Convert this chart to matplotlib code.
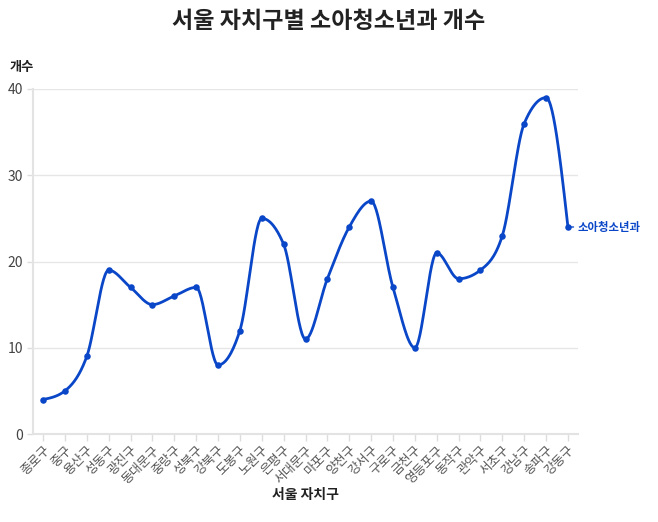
import numpy as np
import matplotlib
matplotlib.use("Agg")
import matplotlib.pyplot as plt

plt.rcParams['font.family'] = ['Noto Sans CJK KR', 'DejaVu Sans']

districts = ["종로구", "중구", "용산구", "성동구", "광진구", "동대문구", "중랑구", "성북구",
             "강북구", "도봉구", "노원구", "은평구", "서대문구", "마포구", "양천구", "강서구",
             "구로구", "금천구", "영등포구", "동작구", "관악구", "서초구", "강남구", "송파구", "강동구"]
counts = [4, 5, 9, 19, 17, 15, 16, 17, 8, 12, 25, 22, 11, 18, 24, 27, 17, 10, 21, 18, 19, 23, 36, 39, 24]
series_name = "소아청소년과"
y_ticks = [0, 10, 20, 30, 40]

color = "#0a46c8"


def monotone_x(x, y, n=30):
    x = np.asarray(x, float); y = np.asarray(y, float)
    h = np.diff(x); s = np.diff(y) / h
    m = np.zeros_like(y)
    for i in range(1, len(y) - 1):
        if s[i - 1] * s[i] <= 0:
            m[i] = 0
        else:
            p = (s[i - 1] * h[i] + s[i] * h[i - 1]) / (h[i - 1] + h[i])
            m[i] = (np.sign(s[i - 1]) + np.sign(s[i])) * min(abs(s[i - 1]), abs(s[i]), 0.5 * abs(p))
    m[0] = (3 * s[0] - m[1]) / 2 if len(y) > 2 else s[0]
    m[-1] = (3 * s[-1] - m[-2]) / 2 if len(y) > 2 else s[-1]
    xs, ys = [], []
    for i in range(len(x) - 1):
        t = np.linspace(0, 1, n, endpoint=(i == len(x) - 2))
        x0, x1 = x[i], x[i + 1]
        hh = x1 - x0
        h00 = 2 * t**3 - 3 * t**2 + 1
        h10 = t**3 - 2 * t**2 + t
        h01 = -2 * t**3 + 3 * t**2
        h11 = t**3 - t**2
        xs.append(x0 + t * hh)
        ys.append(h00 * y[i] + h10 * hh * m[i] + h01 * y[i + 1] + h11 * hh * m[i + 1])
    return np.concatenate(xs), np.concatenate(ys)


fig = plt.figure(figsize=(6.58, 5.22), dpi=100)
ax = fig.add_axes([33 / 658, 88 / 522, (578 - 33) / 658, (434 - 89) / 522])

xi = np.arange(len(districts))
sx, sy = monotone_x(xi, counts)
ax.plot(sx, sy, color=color, lw=2.0, zorder=3, solid_capstyle='round')
ax.scatter(xi, counts, s=22, color=color, zorder=4, linewidths=0)

ax.set_xlim(-0.46, len(districts) - 1 + 0.46)
ax.set_ylim(0, 40)
ax.set_yticks(y_ticks)
ax.set_xticks(xi)
ax.set_xticklabels(districts, rotation=45, ha='right', rotation_mode='anchor',
                   fontsize=9.2, color='#555555')
ax.tick_params(axis='x', length=5, color='#dddddd', width=1, pad=2)
ax.tick_params(axis='y', length=4, color='#dddddd', width=1, labelsize=10, labelcolor='#444444', pad=3)
ax.grid(axis='y', color='#e6e6e6', lw=1)
ax.set_axisbelow(True)
for sp in ['top', 'right']:
    ax.spines[sp].set_visible(False)
for sp in ['left', 'bottom']:
    ax.spines[sp].set_color('#e3e3e3')
    ax.spines[sp].set_linewidth(1.5)

ax.annotate(series_name, xy=(xi[-1], counts[-1]), xytext=(7, 0), textcoords='offset points',
            color=color, fontsize=8.2, fontweight='bold', va='center', ha='left',
            arrowprops=dict(arrowstyle='-', color=color, lw=1, shrinkA=1, shrinkB=0),
            annotation_clip=False)

fig.text(0.5, 1 - 22 / 522, "서울 자치구별 소아청소년과 개수", ha='center', va='center',
         fontsize=16.6, fontweight='bold', color='#222222')
fig.text(10 / 658, 1 - 67 / 522, "개수", ha='left', va='center', fontsize=9.5,
         fontweight='bold', color='#222222')
fig.text(305 / 658, 1 - 495 / 522, "서울 자치구", ha='center', va='center', fontsize=10,
         fontweight='bold', color='#222222')

fig.savefig("out.png", dpi=100)
